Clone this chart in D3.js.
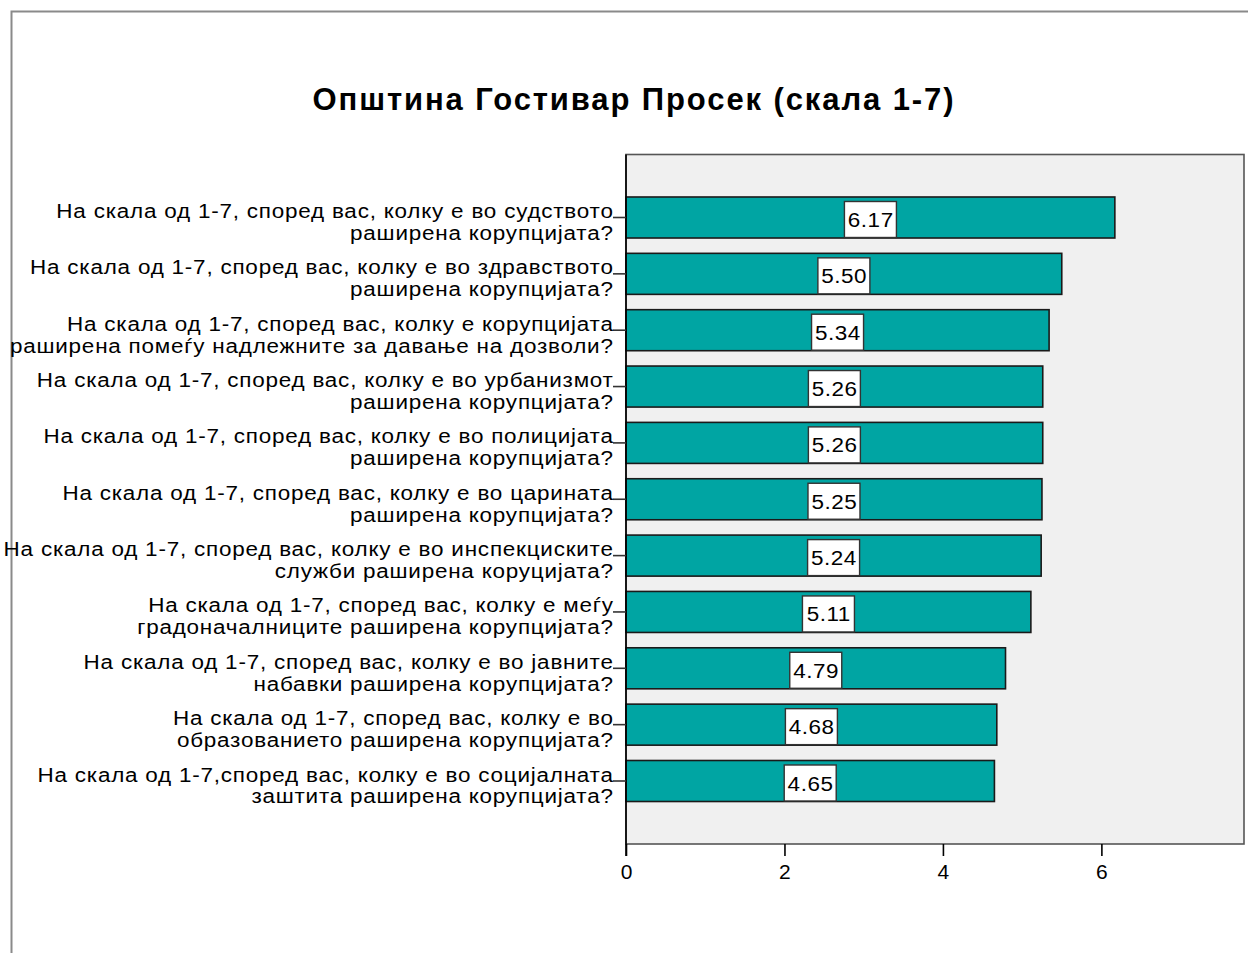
<!DOCTYPE html>
<html>
<head>
<meta charset="utf-8">
<script src="https://cdn.jsdelivr.net/npm/d3@7"></script>
<style>
  html, body { margin: 0; padding: 0; background: #fff; }
  svg { display: block; }
  text { font-family: "Liberation Sans", Arial, sans-serif; fill: #000; }
</style>
</head>
<body>
<svg id="chart" width="1248" height="953"></svg>
<script>
// ---- data ----
const title = "Општина Гостивар Просек (скала 1-7)";
const labelLine1 = [
  "На скала од 1-7, според вас, колку е во судството",
  "На скала од 1-7, според вас, колку е во здравството",
  "На скала од 1-7, според вас, колку е корупцијата",
  "На скала од 1-7, според вас, колку е во урбанизмот",
  "На скала од 1-7, според вас, колку е во полицијата",
  "На скала од 1-7, според вас, колку е во царината",
  "На скала од 1-7, според вас, колку е во инспекциските",
  "На скала од 1-7, според вас, колку е меѓу",
  "На скала од 1-7, според вас, колку е во јавните",
  "На скала од 1-7, според вас, колку е во",
  "На скала од 1-7,според вас, колку е во социјалната"
];
const labelLine2 = [
  "раширена корупцијата?",
  "раширена корупцијата?",
  "раширена помеѓу надлежните за давање на дозволи?",
  "раширена корупцијата?",
  "раширена корупцијата?",
  "раширена корупцијата?",
  "служби раширена коруцијата?",
  "градоначалниците раширена корупцијата?",
  "набавки раширена корупцијата?",
  "образованието раширена корупцијата?",
  "заштита раширена корупцијата?"
];
const values = [6.17, 5.50, 5.34, 5.26, 5.26, 5.25, 5.24, 5.11, 4.79, 4.68, 4.65];
const xTicks = [0, 2, 4, 6];
const xMax = 7.8;

// ---- layout ----
const svg = d3.select("#chart");
const plot = { left: 626, right: 1244, top: 154.5, bottom: 844 };
const idx = d3.range(values.length);

const x = d3.scaleLinear().domain([0, xMax]).range([plot.left, plot.right]);
const y = d3.scaleBand().domain(idx).range([plot.top, plot.bottom])
  .paddingInner(0.272).paddingOuter(0.754);

// outer border
svg.append("path")
  .attr("d", "M11.5,953 V11.5 H1248")
  .attr("fill", "none").attr("stroke", "#8a8a8a").attr("stroke-width", 2);

// title
svg.append("text")
  .attr("x", 634).attr("y", 110)
  .attr("text-anchor", "middle")
  .attr("font-size", 31)
  .attr("font-weight", "bold")
  .style("letter-spacing", "1.9px")
  .text(title);

// plot frame
svg.append("rect")
  .attr("x", plot.left).attr("y", plot.top)
  .attr("width", plot.right - plot.left).attr("height", plot.bottom - plot.top)
  .attr("fill", "#f0f0f0").attr("stroke", "#555").attr("stroke-width", 1.6);

// bars
svg.append("g").selectAll("rect").data(idx).join("rect")
  .attr("x", x(0))
  .attr("y", i => y(i))
  .attr("width", i => x(values[i]) - x(0))
  .attr("height", y.bandwidth())
  .attr("fill", "#00a5a3")
  .attr("stroke", "#1a1a1a").attr("stroke-width", 1.6);

// value label boxes
const vl = svg.append("g").selectAll("g").data(idx).join("g")
  .attr("transform", i => `translate(${x(values[i] / 2)},${y(i) + y.bandwidth() / 2 + 2})`);
vl.append("rect")
  .attr("x", -26).attr("y", -18).attr("width", 52).attr("height", 36)
  .attr("fill", "#fff").attr("stroke", "#333").attr("stroke-width", 1.4);
vl.append("text")
  .attr("transform", "scale(1.07,1)")
  .attr("text-anchor", "middle").attr("x", 0.3).attr("y", 7.5)
  .attr("font-size", 21)
  .style("letter-spacing", "0.5px")
  .text(i => values[i].toFixed(2));

// y axis line
svg.append("line")
  .attr("x1", plot.left).attr("x2", plot.left)
  .attr("y1", plot.top).attr("y2", plot.bottom + 12)
  .attr("stroke", "#000").attr("stroke-width", 1.6);

// category ticks + labels
const cat = svg.append("g").selectAll("g").data(idx).join("g")
  .attr("transform", i => `translate(0,${y(i) + y.bandwidth() / 2})`);
cat.append("line")
  .attr("x1", plot.left - 13).attr("x2", plot.left)
  .attr("stroke", "#333").attr("stroke-width", 1.6);
const lab = cat.append("g").attr("transform", "translate(613.7,0) scale(1.07,1)");
lab.append("text")
  .attr("x", 0).attr("y", 0.5).attr("text-anchor", "end").attr("font-size", 21)
  .style("letter-spacing", "0.73px")
  .text(i => labelLine1[i]);
lab.append("text")
  .attr("x", 0).attr("y", 22.5).attr("text-anchor", "end").attr("font-size", 21)
  .style("letter-spacing", "0.73px")
  .text(i => labelLine2[i]);

// x axis
const xAxis = d3.axisBottom(x).tickValues(xTicks).tickFormat(d3.format("d"))
  .tickSize(12).tickPadding(8);
const gx = svg.append("g").attr("transform", `translate(0,${plot.bottom})`).call(xAxis);
gx.select(".domain").remove();
gx.selectAll(".tick line").attr("stroke", "#000").attr("stroke-width", 1.6);
gx.selectAll(".tick text").attr("font-size", 21)
  .style("font-family", "'Liberation Sans', Arial, sans-serif").attr("fill", "#000");
</script>
</body>
</html>
